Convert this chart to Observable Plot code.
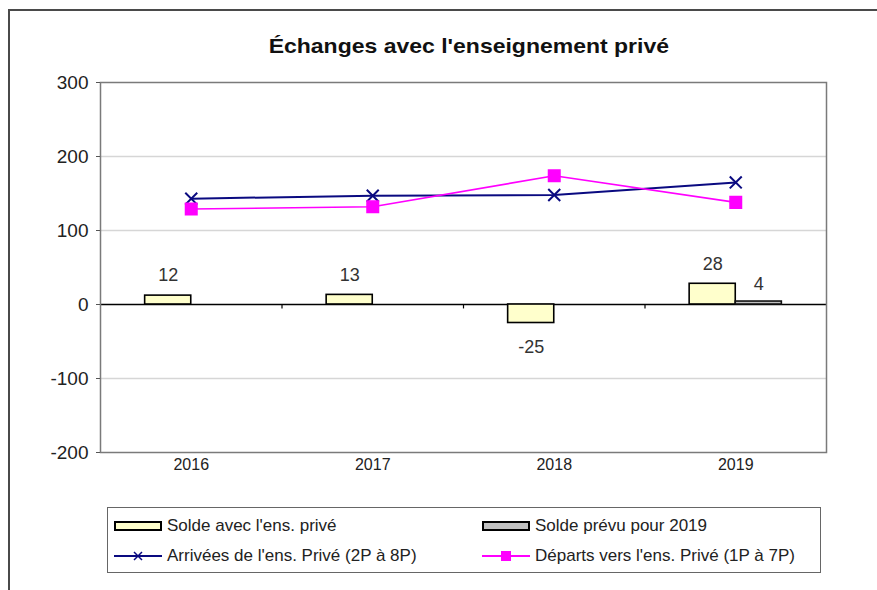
<!DOCTYPE html>
<html>
<head>
<meta charset="utf-8">
<script src="https://cdn.jsdelivr.net/npm/d3@7"></script>
<script src="https://cdn.jsdelivr.net/npm/@observablehq/plot@0.6"></script>
<style>
  html, body { margin: 0; padding: 0; background: #fff; }
  body { width: 877px; height: 590px; position: relative; overflow: hidden; font-family: "Liberation Sans", Arial, sans-serif; }
  #frame { position: absolute; left: 8px; top: 9px; width: 900px; height: 620px; border-left: 2px solid #4a4a4a; border-top: 2px solid #4a4a4a; }
  #titlewrap { position: absolute; left: 0; width: 937px; top: 34px; text-align: center; }
  #title { display: inline-block; font-weight: bold; font-size: 21px; color: #111; transform: scaleX(1.095); }
  #chart { position: absolute; left: 0; top: 0; }
  #legend { position: absolute; left: 107px; top: 507px; width: 712px; height: 64px; border: 1.5px solid #666; background: #fff; }
  .item { position: absolute; display: flex; align-items: center; font-size: 17px; color: #222; height: 20px; }
  .item svg { margin-right: 5px; }
</style>
</head>
<body>
<div id="frame"></div>
<div id="titlewrap"><span id="title"></span></div>
<div id="chart"></div>
<div id="legend"></div>
<script>
// ---- data ----
const titleText = "Échanges avec l'enseignement privé";
const years = [2016, 2017, 2018, 2019];
const solde = [12, 13, -25, 28];
const prevuYears = [2019];
const prevu = [4];
const arrivees = [143, 147, 148, 165];
const departs = [129, 132, 174, 138];
const yTicks = [-200, -100, 0, 100, 200, 300];
const gridValues = [-100, 100, 200];
const legendLabels = [
  "Solde avec l'ens. privé",
  "Solde prévu pour 2019",
  "Arrivées de l'ens. Privé (2P à 8P)",
  "Départs vers l'ens. Privé (1P à 7P)"
];

// ---- tables ----
const soldeData = years.map((y, i) => ({year: y, value: solde[i]}));
const prevuData = prevuYears.map((y, i) => ({year: y, value: prevu[i]}));
const arrData = years.map((y, i) => ({year: y, value: arrivees[i]}));
const depData = years.map((y, i) => ({year: y, value: departs[i]}));
const boundaries = years.slice(0, -1).map(y => y + 0.5);
const bw = 0.254; // bar width in category units

document.getElementById("title").textContent = titleText;

const chart = Plot.plot({
  width: 877,
  height: 490,
  marginLeft: 100,
  marginRight: 51,
  marginTop: 82,
  marginBottom: 38,
  style: {fontFamily: "'Liberation Sans', Arial, sans-serif", fontSize: "17px", color: "#222", background: "transparent"},
  x: {domain: [2015.5, 2019.5], type: "linear", label: null},
  y: {domain: [-200, 300], label: null},
  marks: [
    Plot.ruleY(gridValues, {stroke: "#d6d6d6", strokeWidth: 1.5}),
    Plot.ruleY([0], {stroke: "#000", strokeWidth: 1.3}),
    Plot.ruleX(boundaries, {x: d => d, y1: 0, y2: -6, stroke: "#000", strokeWidth: 1.2}),
    Plot.rect(soldeData, {x1: d => d.year - bw, x2: d => d.year, y1: 0, y2: "value", fill: "#ffffcc", stroke: "#000", strokeWidth: 1.6}),
    Plot.rect(prevuData, {x1: d => d.year, x2: d => d.year + bw, y1: 0, y2: "value", fill: "#c0c0c0", stroke: "#111", strokeWidth: 1.6}),
    Plot.lineY(arrData, {x: "year", y: "value", stroke: "#0a0a80", strokeWidth: 2}),
    Plot.lineY(depData, {x: "year", y: "value", stroke: "#ff00ff", strokeWidth: 1.6}),
    Plot.dot(arrData, {x: "year", y: "value", symbol: "times", r: 5.5, stroke: "#0a0a80", strokeWidth: 2}),
    Plot.dot(depData, {x: "year", y: "value", symbol: "square", r: 6.5, fill: "#ff00ff", stroke: "#ff00ff"}),
    Plot.text(soldeData.filter(d => d.value >= 0), {x: d => d.year - bw / 2, y: "value", text: d => String(d.value), dy: -20, fill: "#333", fontSize: 18}),
    Plot.text(soldeData.filter(d => d.value < 0), {x: d => d.year - bw / 2, y: "value", text: d => String(d.value), dy: 24, fill: "#333", fontSize: 18}),
    Plot.text(prevuData, {x: d => d.year + bw / 2, y: "value", text: d => String(d.value), dy: -17, fill: "#333", fontSize: 18}),
    Plot.frame({stroke: "#7a7a7a", strokeWidth: 1.5}),
    Plot.axisY({ticks: yTicks, tickSize: 4, tickPadding: 8, tickFormat: d => String(d), stroke: "#555", fontSize: 19, label: null}),
    Plot.axisX({ticks: years, tickSize: 0, tickPadding: 6, tickFormat: d => String(d), fontSize: 16, label: null})
  ]
});
document.getElementById("chart").appendChild(chart);

// ---- legend ----
const legend = document.getElementById("legend");
const swatches = [
  `<svg width="48" height="12"><rect x="1" y="2" width="46" height="8" fill="#ffffcc" stroke="#000" stroke-width="2"/></svg>`,
  `<svg width="48" height="12"><rect x="1" y="2" width="46" height="8" fill="#c0c0c0" stroke="#000" stroke-width="2"/></svg>`,
  `<svg width="48" height="12"><line x1="0" y1="6" x2="48" y2="6" stroke="#0a0a80" stroke-width="2"/><path d="M20,2L28,10M28,2L20,10" stroke="#0a0a80" stroke-width="1.5"/></svg>`,
  `<svg width="48" height="12"><line x1="0" y1="6" x2="48" y2="6" stroke="#ff00ff" stroke-width="2"/><rect x="19" y="1" width="10" height="10" fill="#ff00ff"/></svg>`
];
const pos = [[6, 8], [374, 8], [6, 38], [374, 38]];
legendLabels.forEach((lab, i) => {
  const d = document.createElement("div");
  d.className = "item";
  d.style.left = pos[i][0] + "px";
  d.style.top = pos[i][1] + "px";
  d.innerHTML = swatches[i] + "<span></span>";
  d.querySelector("span").textContent = lab;
  legend.appendChild(d);
});
</script>
</body>
</html>
